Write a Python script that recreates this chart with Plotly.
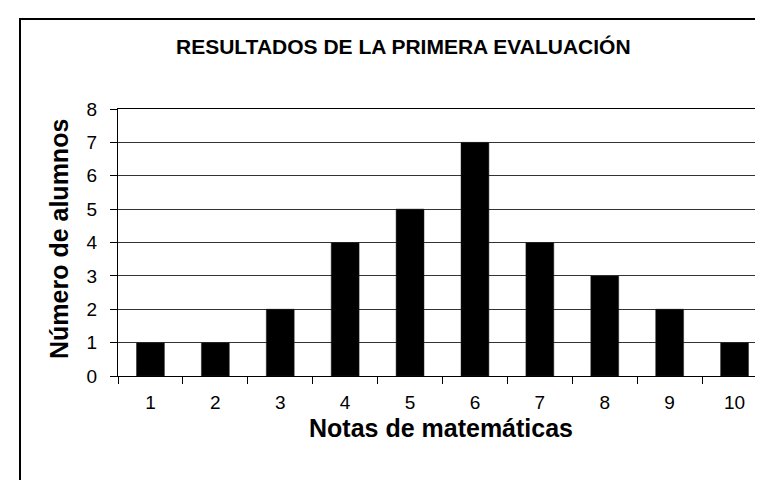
import plotly.graph_objects as go

notas = ["1", "2", "3", "4", "5", "6", "7", "8", "9", "10"]
alumnos = [1, 1, 2, 4, 5, 7, 4, 3, 2, 1]
y_ticks = [0, 1, 2, 3, 4, 5, 6, 7, 8]

titulo = "RESULTADOS DE LA PRIMERA EVALUACIÓN"
titulo_x = "Notas de matemáticas"
titulo_y = "Número de alumnos"

FONT = "Liberation Sans, Arial, sans-serif"

W, H = 763, 480
L, R, T, B = 110, 4, 101, 112
pw = W - L - R
ph = H - T - B

def px_x(x):
    return (x - L) / pw

def px_y(y):
    return (H - B - y) / ph

fig = go.Figure()
fig.add_trace(go.Bar(
    x=notas, y=alumnos,
    marker=dict(color="black", line=dict(color="#222", width=0.5)),
    width=0.43,
))

fig.update_layout(
    width=W, height=H,
    margin=dict(l=L, r=R, t=T, b=B),
    paper_bgcolor="white", plot_bgcolor="white",
    showlegend=False,
    font=dict(family=FONT, color="black", size=19),
    xaxis=dict(
        type="category", tickson="boundaries", ticks="outside", ticklen=7,
        tickcolor="black", showline=True, linecolor="black", linewidth=1,
        mirror=True, showgrid=False, tickfont=dict(size=19),
        ticklabelstandoff=9,
    ),
    yaxis=dict(
        range=[0, 8], tickvals=y_ticks, ticks="outside", ticklen=7,
        tickcolor="black", showline=True, linecolor="black", linewidth=1,
        mirror=True, showgrid=True, gridcolor="#333", gridwidth=1,
        tickfont=dict(size=19), zeroline=False, ticklabelstandoff=9,
    ),
    annotations=[
        dict(text="<b>%s</b>" % titulo, xref="paper", yref="paper",
             x=px_x(395), y=px_y(38), xanchor="center", yanchor="middle",
             showarrow=False, font=dict(size=21, family=FONT)),
        dict(text="<b>%s</b>" % titulo_x, xref="paper", yref="paper",
             x=px_x(433), y=px_y(420), xanchor="center", yanchor="middle",
             showarrow=False, font=dict(size=25, family=FONT)),
        dict(text="<b>%s</b>" % titulo_y, xref="paper", yref="paper",
             x=px_x(51), y=px_y(231), xanchor="center", yanchor="middle",
             textangle=-90, showarrow=False, font=dict(size=25, family=FONT)),
    ],
    shapes=[
        dict(type="rect", xref="paper", yref="paper",
             x0=px_x(12), x1=px_x(775), y0=px_y(11), y1=px_y(495),
             line=dict(color="black", width=2), fillcolor="rgba(0,0,0,0)",
             layer="below"),
    ],
)

fig.write_html("out.html")
